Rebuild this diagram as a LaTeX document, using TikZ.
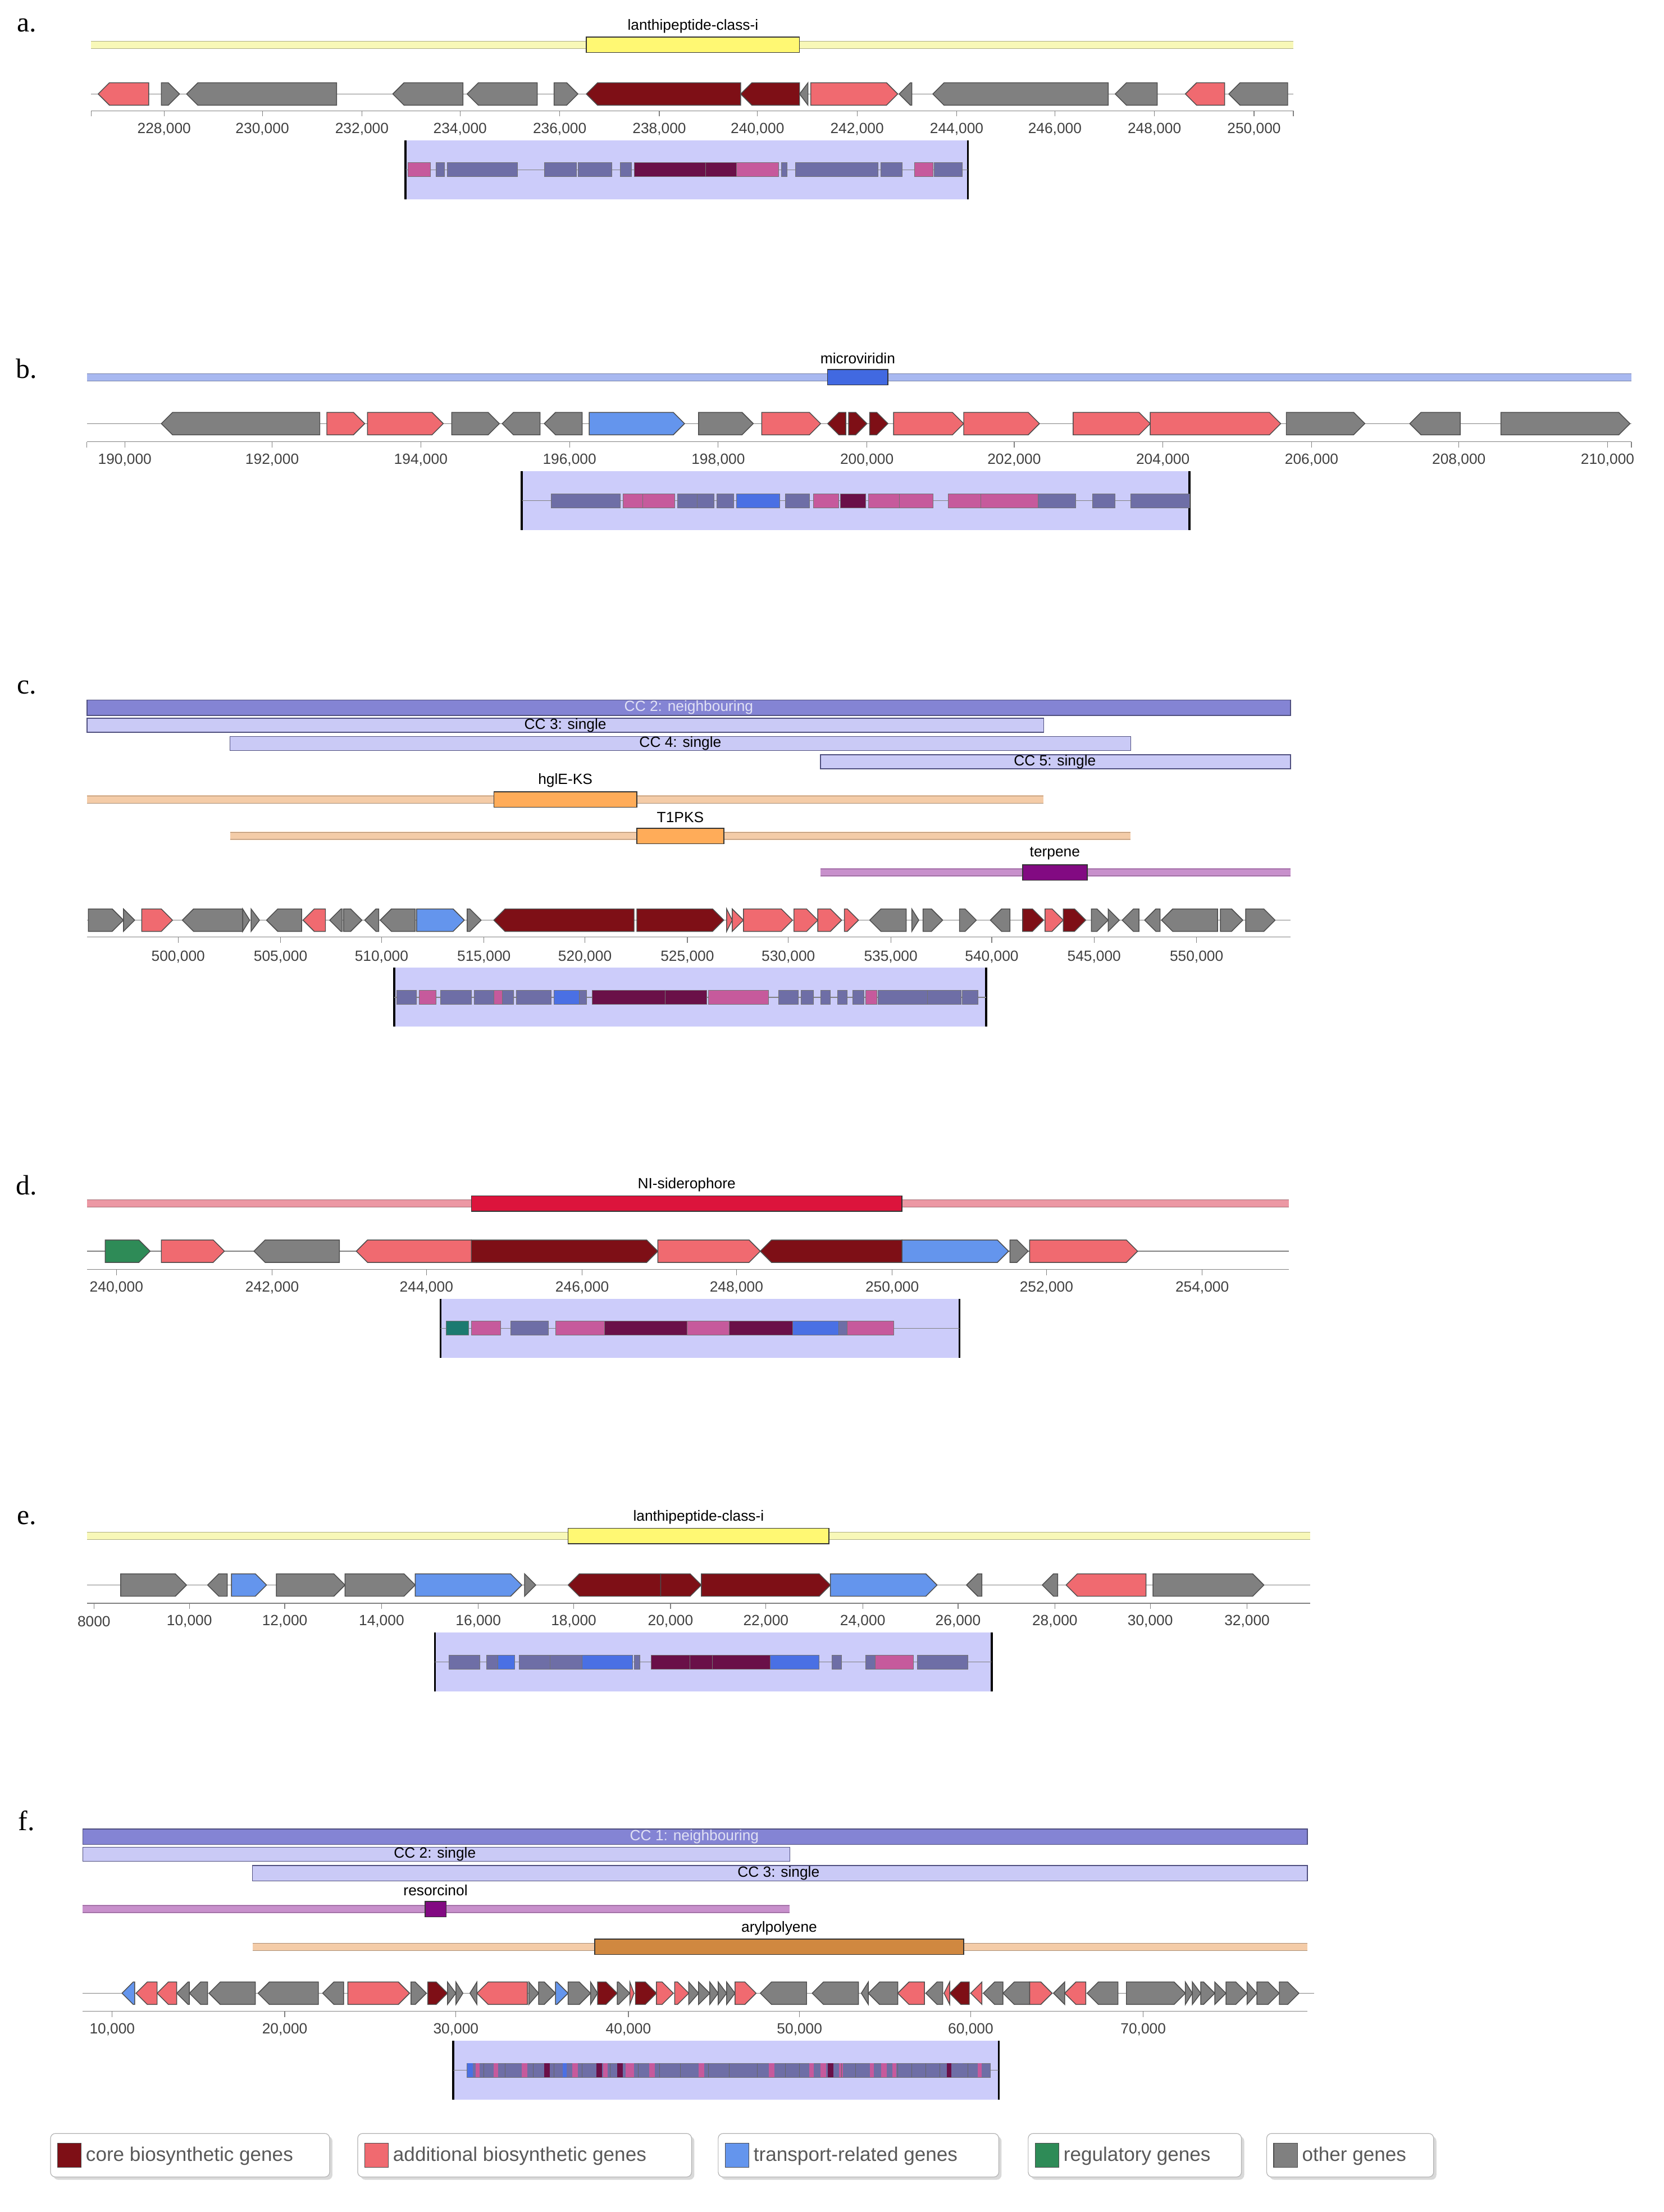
\documentclass[tikz,border=0pt]{standalone}
\usepackage{fontspec}
\setmainfont{Liberation Sans}
\newfontfamily\serifl{Liberation Serif}
\definecolor{core}{HTML}{7E0F16}
\definecolor{add}{HTML}{F06A70}
\definecolor{trn}{HTML}{6495ED}
\definecolor{reg}{HTML}{2E8B57}
\definecolor{oth}{HTML}{808080}
\definecolor{mbg}{HTML}{CCCCFA}
\definecolor{sl}{HTML}{6E6EA6}
\definecolor{pk}{HTML}{C65A9C}
\definecolor{dp}{HTML}{6A1048}
\definecolor{bl}{HTML}{4A70E4}
\definecolor{tl}{HTML}{1C7A70}
\definecolor{ccn}{HTML}{8484D4}
\definecolor{ccs}{HTML}{CACAF6}
\definecolor{yband}{HTML}{F8F8B8}
\definecolor{bband}{HTML}{A8B8F0}
\definecolor{oband}{HTML}{F4CCA8}
\definecolor{pband}{HTML}{C890CC}
\definecolor{rband}{HTML}{EC98A4}
\definecolor{tanbox}{HTML}{D08840}
\definecolor{purbox}{HTML}{820A82}
\definecolor{crim}{HTML}{DC143C}
\definecolor{micro}{HTML}{4169E1}
\tikzset{gene/.style={draw=black!70,line width=0.5pt},
 lbl/.style={font=\fontsize{9}{10}\selectfont,inner sep=0pt},
 tick/.style={font=\fontsize{9}{10}\selectfont,text=black!75,inner sep=0pt},
 plet/.style={font=\serifl\fontsize{17}{18}\selectfont,inner sep=0pt},
 mg/.style={draw=black!55,line width=0.3pt}}
\newcommand\gR[4]{\pgfmathsetmacro\ga{min(8,#2-#1)}\filldraw[gene,fill=#4] (#1,#3-8) -- (#2-\ga,#3-8) -- (#2,#3) -- (#2-\ga,#3+8) -- (#1,#3+8) -- cycle;}
\newcommand\gL[4]{\pgfmathsetmacro\ga{min(8,#2-#1)}\filldraw[gene,fill=#4] (#2,#3-8) -- (#1+\ga,#3-8) -- (#1,#3) -- (#1+\ga,#3+8) -- (#2,#3+8) -- cycle;}
\newcommand\axisl[3]{\draw[black!50,line width=0.4pt] (#1,#3) -- (#2,#3);}
\newcommand\mini[3]{\fill[mbg] (#1,#3-21) rectangle (#2,#3+21);
 \draw[line width=1.2pt] (#1,#3-21) -- (#1,#3+21) (#2,#3-21) -- (#2,#3+21);
 \draw[black!50,line width=0.4pt] (#1,#3) -- (#2,#3);}
\newcommand\mg[4]{\filldraw[mg,fill=#4] (#1,#3-5) rectangle (#2,#3+5);}
\newcommand\band[4]{\draw[#4,line width=5pt] (#1,#3) -- (#2,#3);\draw[#4!70!black,line width=0.3pt] (#1,#3-2.5) -- (#2,#3-2.5) (#1,#3+2.5) -- (#2,#3+2.5);}
\newcommand\cbox[5]{\filldraw[draw=black!80,line width=0.5pt,fill=#4] (#1,#3-5.5) rectangle (#2,#3+5.5);\node[lbl] at ({(#1+#2)/2},#3-13.5) {#5};}
\begin{document}
\begin{tikzpicture}[x=0.03cm,y=-0.03cm]
\useasboundingbox (0,0) rectangle (1186,1577);
\fill[white] (0,0) rectangle (1186,1577);
% ---------- a
\node[plet] at (19,18) {a.};
\band{65}{922}{32}{yband}
\cbox{418}{570}{32}{yellow!55}{lanthipeptide-class-i}
\axisl{65}{922}{67}
\foreach \a/\b/\c in {115/128/oth,395/412/oth,578/640/add} {\gR{\a}{\b}{67}{\c}}
\foreach \a/\b/\c in {70/106/add,133/240/oth,280/330/oth,333/383/oth,418/528/core,528/570/core,570/576/oth,641/650/oth,665/790/oth,795/825/oth,845/873/add,876/918/oth} {\gL{\a}{\b}{67}{\c}}
\axisl{65}{922}{79}
\foreach \x/\t in {117/228,187/230,258/232,328/234,399/236,470/238,540/240,611/242,682/244,752/246,823/248,894/250} {\draw[black!50] (\x,79)--(\x,83); \node[tick] at (\x,92) {\t,000};}
\draw[black!50] (65,79)--(65,83) (922,79)--(922,83);
\mini{289}{690}{121}
\foreach \a/\b/\c in {291/307/pk,311/317/sl,319/369/sl,388/411/sl,412/436/sl,442/450/sl,452/503/dp,503/525/dp,525/555/pk,557/561/sl,567/626/sl,628/643/sl,652/665/pk,666/686/sl} {\mg{\a}{\b}{121}{\c}}
% ---------- b
\node[plet] at (19,263) {b.};
\band{62}{1163}{269}{bband}
\cbox{590}{633}{269}{micro}{microviridin}
\axisl{62}{1163}{302}
\foreach \a/\b/\c in {233/260/add,262/316/add,322/356/oth,420/488/trn,498/537/oth,543/585/add,605/618/core,620/633/core,637/687/add,687/741/add,765/820/add,820/913/add,917/973/oth,1070/1162/oth} {\gR{\a}{\b}{302}{\c}}
\foreach \a/\b/\c in {115/228/oth,358/385/oth,388/415/oth,590/603/core,1005/1041/oth} {\gL{\a}{\b}{302}{\c}}
\axisl{62}{1163}{315}
\foreach \x/\t in {89/190,194/192,300/194,406/196,512/198,618/200,723/202,829/204,935/206,1040/208,1146/210} {\draw[black!50] (\x,315)--(\x,319); \node[tick] at (\x,328) {\t,000};}
\draw[black!50] (62,315)--(62,319) (1163,315)--(1163,319);
\mini{372}{848}{357}
\foreach \a/\b/\c in {393/442/sl,444/458/pk,458/481/pk,483/497/sl,497/509/sl,511/523/sl,525/556/bl,560/577/sl,580/598/pk,599/617/dp,619/641/pk,641/665/pk,676/699/pk,699/740/pk,740/767/sl,779/795/sl,806/848/sl} {\mg{\a}{\b}{357}{\c}}
% ---------- c
\node[plet] at (19,490) {c.};
\filldraw[draw=ccn!60!black,line width=0.5pt,fill=ccn] (62,499) rectangle (920,510);
\node[lbl,text=white!75!ccn] at (491,504.5) {CC 2: neighbouring};
\filldraw[draw=ccn!60!black,line width=0.5pt,fill=ccs] (62,512) rectangle (744,522);
\node[lbl] at (403,517) {CC 3: single};
\filldraw[draw=ccn!60!black,line width=0.5pt,fill=ccs] (164,525) rectangle (806,535);
\node[lbl] at (485,530) {CC 4: single};
\filldraw[draw=ccn!60!black,line width=0.5pt,fill=ccs] (585,538) rectangle (920,548);
\node[lbl] at (752,543) {CC 5: single};
\band{62}{744}{570}{oband}
\cbox{352}{454}{570}{orange!65}{hglE-KS}
\band{164}{806}{596}{oband}
\cbox{454}{516}{596}{orange!65}{T1PKS}
\band{585}{920}{622}{pband}
\cbox{729}{775}{622}{purbox}{terpene}
\axisl{62}{920}{656}
\foreach \a/\b/\c in {63/88/oth,88/96/oth,101/123/add,173/178/oth,179/185/oth,245/258/oth,297/331/trn,333/343/oth,454/516/core,518/522/add,522/530/add,530/565/add,566/583/add,583/600/add,602/612/add,650/655/oth,658/672/oth,684/696/oth,729/744/core,745/758/add,758/774/core,778/790/oth,790/798/oth,870/886/oth,888/909/oth} {\gR{\a}{\b}{656}{\c}}
\foreach \a/\b/\c in {130/173/oth,190/215/oth,216/232/add,235/244/oth,260/270/oth,271/296/oth,352/452/core,620/646/oth,706/720/oth,800/812/oth,816/827/oth,828/868/oth} {\gL{\a}{\b}{656}{\c}}
\axisl{62}{920}{668}
\foreach \x/\t in {127/500,200/505,272/510,345/515,417/520,490/525,562/530,635/535,707/540,780/545,853/550} {\draw[black!50] (\x,668)--(\x,672); \node[tick] at (\x,682) {\t,000};}
\mini{281}{703}{711}
\foreach \a/\b/\c in {283/297/sl,299/311/pk,314/336/sl,338/352/sl,352/358/pk,358/366/sl,368/393/sl,395/413/bl,413/418/sl,422/474/dp,474/504/dp,505/548/pk,555/569/sl,571/580/sl,585/592/sl,597/604/sl,608/616/sl,617/625/pk,626/661/sl,661/685/sl,686/697/sl} {\mg{\a}{\b}{711}{\c}}
% ---------- d
\node[plet] at (19,845) {d.};
\band{62}{919}{858}{rband}
\cbox{336}{643}{858}{crim}{NI-siderophore}
\axisl{62}{919}{892}
\foreach \a/\b/\c in {75/107/reg,115/160/add,336/469/core,469/542/add,643/719/trn,720/733/oth,734/811/add} {\gR{\a}{\b}{892}{\c}}
\foreach \a/\b/\c in {181/242/oth,254/336/add,542/643/core} {\gL{\a}{\b}{892}{\c}}
\axisl{62}{919}{905}
\foreach \x/\t in {83/240,194/242,304/244,415/246,525/248,636/250,746/252,857/254} {\draw[black!50] (\x,905)--(\x,909); \node[tick] at (\x,918) {\t,000};}
\mini{314}{684}{947}
\foreach \a/\b/\c in {318/334/tl,336/357/pk,364/391/sl,396/431/pk,431/490/dp,490/520/pk,520/565/dp,565/598/bl,598/604/sl,604/637/pk} {\mg{\a}{\b}{947}{\c}}
% ---------- e
\node[plet] at (19,1082) {e.};
\band{62}{934}{1095}{yband}
\cbox{405}{591}{1095}{yellow!55}{lanthipeptide-class-i}
\axisl{62}{934}{1130}
\foreach \a/\b/\c in {86/133/oth,165/190/trn,197/246/oth,246/296/oth,296/372/trn,374/382/oth,471/500/core,500/592/core,592/668/trn,822/901/oth} {\gR{\a}{\b}{1130}{\c}}
\foreach \a/\b/\c in {148/162/oth,405/471/core,689/700/oth,743/754/oth,760/817/add} {\gL{\a}{\b}{1130}{\c}}
\axisl{62}{934}{1143}
\foreach \x/\t in {67/8000,135/{10,000},203/{12,000},272/{14,000},341/{16,000},409/{18,000},478/{20,000},546/{22,000},615/{24,000},683/{26,000},752/{28,000},820/{30,000},889/{32,000}} {\draw[black!50] (\x,1143)--(\x,1147); \node[tick] at (\x,1156) {\t};}
\mini{310}{707}{1185}
\foreach \a/\b/\c in {320/342/sl,347/355/sl,355/367/bl,370/392/sl,392/415/sl,415/451/bl,452/456/sl,464/492/dp,492/508/dp,508/549/dp,549/584/bl,593/600/sl,617/624/sl,624/651/pk,654/690/sl} {\mg{\a}{\b}{1185}{\c}}
% ---------- f
\node[plet] at (19,1298) {f.};
\filldraw[draw=ccn!60!black,line width=0.5pt,fill=ccn] (59,1304) rectangle (932,1315);
\node[lbl,text=white!75!ccn] at (495,1309.5) {CC 1: neighbouring};
\filldraw[draw=ccn!60!black,line width=0.5pt,fill=ccs] (59,1317) rectangle (563,1327);
\node[lbl] at (310,1322) {CC 2: single};
\filldraw[draw=ccn!60!black,line width=0.5pt,fill=ccs] (180,1330) rectangle (932,1341);
\node[lbl] at (555,1335.5) {CC 3: single};
\band{59}{563}{1361}{pband}
\cbox{303}{318}{1361}{purbox}{resorcinol}
\band{180}{932}{1388}{oband}
\cbox{424}{687}{1388}{tanbox}{arylpolyene}
\axisl{59}{937}{1421}
\foreach \a/\b/\c in {248/292/add,293/304/oth,305/319/core,319/325/oth,325/330/oth,377/384/oth,384/396/oth,396/405/trn,405/421/oth,421/426/oth,426/440/core,440/449/oth,449/452/add,453/468/core,468/480/add,481/491/add,491/498/oth,498/506/oth,506/512/oth,512/518/oth,518/524/oth,524/539/add,734/750/add,803/845/oth,845/850/oth,850/856/oth,856/866/oth,866/874/oth,874/889/oth,889/896/oth,896/912/oth,912/926/oth} {\gR{\a}{\b}{1421}{\c}}
\foreach \a/\b/\c in {87/96/trn,97/112/add,112/126/add,126/135/oth,135/148/oth,149/182/oth,184/227/oth,230/245/oth,335/340/oth,340/376/add,542/575/oth,579/612/oth,614/619/oth,619/640/oth,640/659/add,660/672/oth,673/677/add,677/691/core,692/700/add,701/715/oth,715/734/oth,751/759/oth,759/774/add,775/797/oth} {\gL{\a}{\b}{1421}{\c}}
\axisl{59}{932}{1434}
\foreach \x/\t in {80/10,203/20,325/30,448/40,570/50,692/60,815/70} {\draw[black!50] (\x,1434)--(\x,1438); \node[tick] at (\x,1447) {\t,000};}
\mini{323}{712}{1476}
\mg{333}{706}{1476}{sl}
\foreach \a/\b/\c in {333/337/bl,339/342/pk,352/355/pk,372/376/pk,388/392/dp,401/404/bl,408/412/pk,425/429/dp,430/433/pk,440/444/dp,446/452/pk,463/467/pk,498/502/pk,548/552/pk,577/580/pk,585/589/pk,590/594/dp,598/601/pk,620/623/pk,628/632/pk,636/639/pk,675/678/dp,683/686/sl,697/700/pk} {\fill[\c] (\a,1471) rectangle (\b,1481);}
\foreach \x in {345,360,380,395,415,435,455,470,485,505,520,540,560,570,600,610,640,650,660,670,690} {\draw[black!60,line width=0.3pt] (\x,1471)--(\x,1481);}
% ---------- legend
\foreach \a/\b/\c/\t in {36/235/core/core biosynthetic genes,255/493/add/additional biosynthetic genes,512/712/trn/transport-related genes,733/885/reg/regulatory genes,903/1022/oth/other genes} {
 \fill[black!15,rounded corners=3pt] (\a+2,1523) rectangle (\b+2,1554);
 \filldraw[draw=black!30,fill=white,rounded corners=3pt] (\a,1521) rectangle (\b,1552);
 \filldraw[draw=black!70,fill=\c] (\a+5,1528) rectangle (\a+22,1545);
 \node[anchor=west,inner sep=0pt,text=black!65,font=\fontsize{12}{13}\selectfont] at (\a+25,1537) {\t};}
\end{tikzpicture}
\end{document}
